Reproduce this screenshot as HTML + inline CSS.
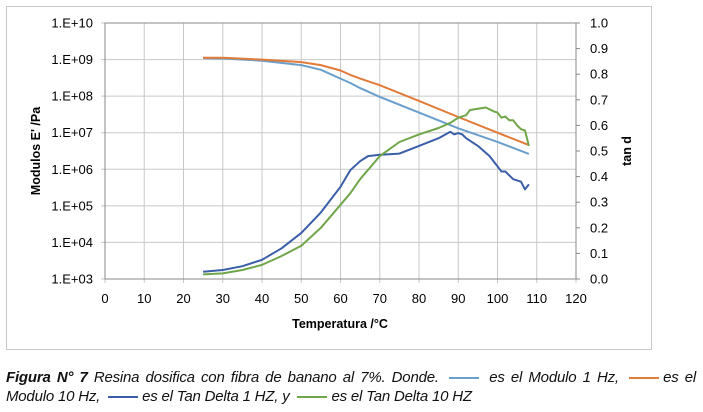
<!DOCTYPE html>
<html><head><meta charset="utf-8"><style>
body{margin:0;background:#fff;width:703px;height:412px;overflow:hidden;font-family:"Liberation Sans",sans-serif}
.cap{position:absolute;left:6px;font-size:15px;font-style:italic;font-family:"Liberation Sans",sans-serif;color:#111;white-space:nowrap;letter-spacing:-0.2px}
.sw{display:inline-block;width:30px;height:2px;vertical-align:middle;margin:0 4px}
</style></head><body>
<svg width="703" height="412" style="position:absolute;left:0;top:0">
<rect x="6.5" y="6.5" width="645" height="343" fill="#fff" stroke="#c8c8c8"/>
<g id="grid"></g><g id="axes"></g><g id="series"></g>
<text x="0" y="0" transform="translate(40,151) rotate(-90)" text-anchor="middle" font-size="12.5" font-weight="bold">Modulos E' /Pa</text>
<text x="0" y="0" transform="translate(631,151) rotate(-90)" text-anchor="middle" font-size="12.5" font-weight="bold">tan d</text>
<text x="340" y="328" text-anchor="middle" font-size="12.5" font-weight="bold">Temperatura /°C</text>
</svg>
<div class="cap" style="top:369px;width:690px;text-align:justify;text-align-last:justify;white-space:normal"><b>Figura N° 7</b> Resina dosifica con fibra de banano al 7%. Donde. <span class="sw" style="background:#6a9fcb"></span> es el Modulo 1 Hz, <span class="sw" style="background:#e07b39"></span>es el</div>
<div class="cap" style="top:388px">Modulo 10 Hz, <span class="sw" style="background:#3a5ea8"></span>es el Tan Delta 1 HZ, y <span class="sw" style="background:#70a64a"></span>es el Tan Delta 10 HZ</div>
<script>
const xTicks=[0,10,20,30,40,50,60,70,80,90,100,110,120];
const yTickLabels=["1.E+03","1.E+04","1.E+05","1.E+06","1.E+07","1.E+08","1.E+09","1.E+10"];
const y2Ticks=[0,0.1,0.2,0.3,0.4,0.5,0.6,0.7,0.8,0.9,1.0];
const modT=[25,30,40,50,55,60,62.5,65,70,80,90,100,108];
const mod1Log=[9.04,9.03,8.97,8.85,8.72,8.48,8.36,8.22,7.98,7.55,7.12,6.75,6.42];
const mod10Log=[9.05,9.05,9.0,8.93,8.85,8.7,8.58,8.48,8.3,7.87,7.43,7.0,6.66];
const tdT=[25,30,35,40,45,50,55,60,62.5,65,67,70,75,80,85,88,89,90,91,92,95,98,100,101,102,104,106,107,108];
const td1=[0.028,0.035,0.05,0.075,0.12,0.18,0.26,0.36,0.425,0.46,0.48,0.485,0.49,0.52,0.55,0.575,0.565,0.57,0.565,0.55,0.52,0.48,0.44,0.42,0.42,0.39,0.38,0.35,0.37];
const tdT2=[25,30,35,40,45,50,55,60,62.5,65,70,75,80,85,88,90,92,93,95,97,99,100,101,102,103,104,105,106,107,108];
const td10=[0.018,0.022,0.035,0.055,0.09,0.13,0.2,0.29,0.335,0.39,0.48,0.535,0.565,0.59,0.61,0.63,0.64,0.66,0.665,0.67,0.655,0.65,0.63,0.635,0.62,0.62,0.6,0.585,0.58,0.52];
const L=105,R=576,T=23,B=279;
const X=v=>L+(v-0)/120*(R-L);
const YL=v=>B-(v-3)/7*(B-T);
const Y2=v=>B-v*(B-T);
const NS="http://www.w3.org/2000/svg";
function mk(p,tag,at){const e=document.createElementNS(NS,tag);for(const k in at)e.setAttribute(k,at[k]);document.getElementById(p).appendChild(e);return e;}
xTicks.forEach(t=>{const l=mk('grid','line',{x1:X(t),x2:X(t),y1:T,y2:B+4,stroke:'#c8c8c8'});


const tx=mk('axes','text',{x:X(t),y:B+24,'text-anchor':'middle','font-size':13});tx.textContent=t;

});
yTickLabels.forEach((s,i)=>{const y=YL(3+i);const l=mk('grid','line',{x1:L-4,x2:R,y1:y,y2:y,stroke:'#c8c8c8'});


const tx=mk('axes','text',{x:L-12,y:y+4.5,'text-anchor':'end','font-size':13});tx.textContent=s;

});
y2Ticks.forEach(v=>{const y=Y2(v);mk('axes','line',{x1:R,x2:R+4,y1:y,y2:y,stroke:'#888'});
const tx=mk('axes','text',{x:R+14,y:y+4.5,'font-size':13});tx.textContent=v.toFixed(1);

});
const fr=mk('axes','rect',{x:L,y:T,width:R-L,height:B-T,fill:'none',stroke:'#888'});


function line(xs,ys,fy,col,name){const d=xs.map((x,i)=>(i?'L':'M')+X(x).toFixed(1)+','+fy(ys[i]).toFixed(1)).join('');
const p=mk('series','path',{d:d,fill:'none',stroke:col,'stroke-width':2,'stroke-linejoin':'round'});

}
line(modT,mod1Log,YL,'#6a9fcb','modulo-1hz-line');
line(modT,mod10Log,YL,'#e07b39','modulo-10hz-line');
line(tdT,td1,Y2,'#3a5ea8','tan-delta-1hz-line');
line(tdT2,td10,Y2,'#70a64a','tan-delta-10hz-line');
</script>
</body></html>
